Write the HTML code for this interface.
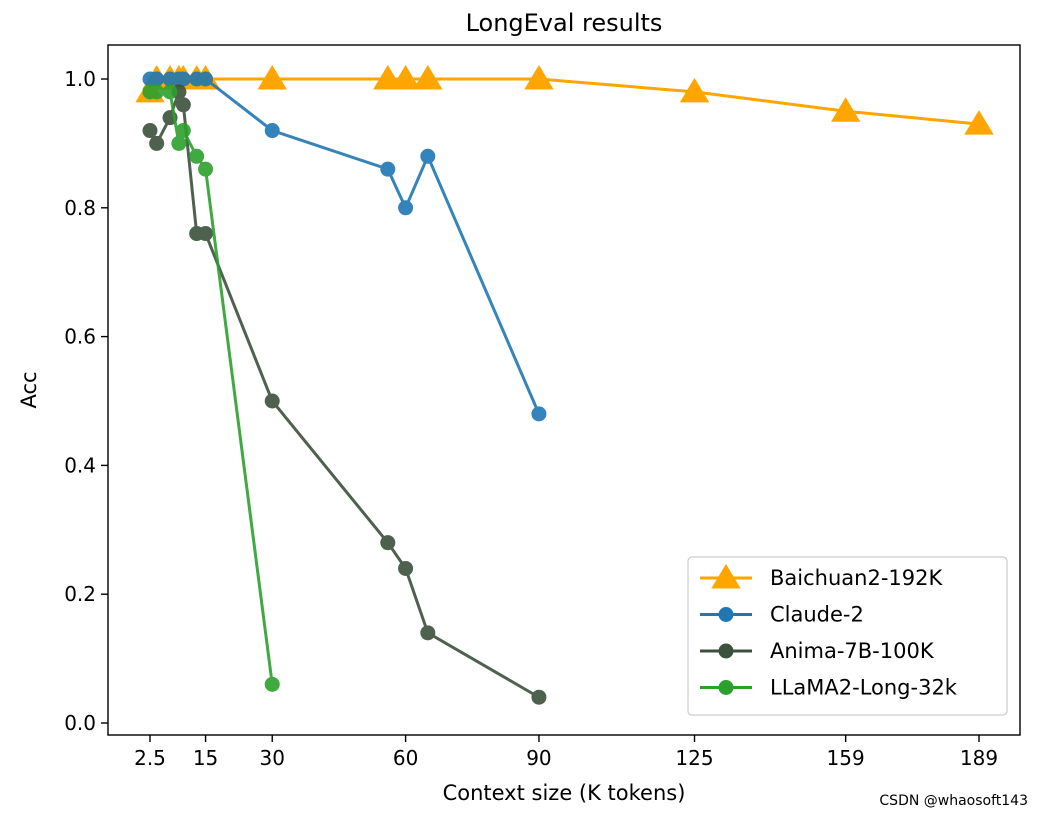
<!DOCTYPE html>
<html><head><meta charset="utf-8"><style>
body{margin:0;background:#fff;}
svg text{font-family:"DejaVu Sans","Liberation Sans",sans-serif;fill:#000;}
</style></head><body>
<svg id="chart" width="1043" height="815" xmlns="http://www.w3.org/2000/svg">
<rect width="1043" height="815" fill="#fff"/>
<g id="plot"></g>
</svg>
<script>
const xTicks=[2.5,15,30,60,90,125,159,189];
const yTicks=[0,0.2,0.4,0.6,0.8,1.0];
const baichuanX=[2.5,4,7,9,10,13,15,30,56,60,65,90,125,159,189];
const baichuanY=[0.98,1,1,1,1,1,1,1,1,1,1,1,0.98,0.95,0.93];
const claudeX=[2.5,4,7,9,10,13,15,30,56,60,65,90];
const claudeY=[1,1,1,1,1,1,1,0.92,0.86,0.80,0.88,0.48];
const animaX=[2.5,4,7,9,10,13,15,30,56,60,65,90];
const animaY=[0.92,0.90,0.94,0.98,0.96,0.76,0.76,0.50,0.28,0.24,0.14,0.04];
const llamaX=[2.5,4,7,9,10,13,15,30];
const llamaY=[0.98,0.98,0.98,0.90,0.92,0.88,0.86,0.06];
const seriesNames=["Baichuan2-192K","Claude-2","Anima-7B-100K","LLaMA2-Long-32k"];

const NS="http://www.w3.org/2000/svg";
const g=document.getElementById('plot');
const L=108,R=1020,T=45,B=735;
const sx=v=>150+(v-2.5)*(979-150)/(189-2.5);
const sy=v=>723-v*644;
function el(t,a,p){const e=document.createElementNS(NS,t);for(const k in a)e.setAttribute(k,a[k]);(p||g).appendChild(e);return e;}

const frame=el('rect',{x:L,y:T,width:R-L,height:B-T,fill:'none',stroke:'#000','stroke-width':1.4});


xTicks.forEach(v=>{
  const x=sx(v);
  el('line',{x1:x,x2:x,y1:B,y2:B+7,stroke:'#000','stroke-width':1.4});
  const t=el('text',{x:x,y:B+30,'font-size':20,'text-anchor':'middle'});t.textContent=String(v);
  
  
});
yTicks.forEach(v=>{
  const y=sy(v);
  el('line',{x1:L-7,x2:L,y1:y,y2:y,stroke:'#000','stroke-width':1.4});
  const t=el('text',{x:L-12,y:y+7,'font-size':20,'text-anchor':'end'});t.textContent=v.toFixed(1);
  
  
});
const title=el('text',{x:564,y:31,'font-size':24,'text-anchor':'middle'});title.textContent='LongEval results';


const xl=el('text',{x:564,y:800,'font-size':21,'text-anchor':'middle'});xl.textContent='Context size (K tokens)';


const yl=el('text',{x:0,y:0,'font-size':21,'text-anchor':'middle',transform:'translate(36,390) rotate(-90)'});yl.textContent='Acc';



function tri(x,y,s,color,parent){return el('polygon',{points:`${x},${y-s} ${x-s*1.05},${y+s*0.75} ${x+s*1.05},${y+s*0.75}`,fill:color},parent);}
function series(xs,ys,color,marker,name){
  const sg=el('g',{opacity:marker==='tri'?1:0.9});
  
  
  el('polyline',{points:xs.map((x,i)=>sx(x)+','+sy(ys[i])).join(' '),fill:'none',stroke:color,'stroke-width':3},sg);
  xs.forEach((x,i)=>{
    if(marker==='tri')tri(sx(x),sy(ys[i]),14,color,sg);
    else el('circle',{cx:sx(x),cy:sy(ys[i]),r:7.5,fill:color},sg);
  });
}
const colors=['#ffa500','#1f77b4','#3b513d','#2ca02c'];
series(baichuanX,baichuanY,colors[0],'tri','series-baichuan');
series(claudeX,claudeY,colors[1],'dot','series-claude');
series(animaX,animaY,colors[2],'dot','series-anima');
series(llamaX,llamaY,colors[3],'dot','series-llama');

const lg=el('g',{});


el('rect',{x:688,y:557,width:319,height:158,rx:4,fill:'#fff',stroke:'#ccc','stroke-width':1.2},lg);
seriesNames.forEach((n,i)=>{
  const y=578+i*36.5;
  const eg=el('g',{},lg);
  
  
  el('line',{x1:700,x2:752,y1:y,y2:y,stroke:colors[i],'stroke-width':3},eg);
  if(i===0)tri(726,y,14,colors[i],eg);else el('circle',{cx:726,cy:y,r:7.5,fill:colors[i]},eg);
  const t=el('text',{x:770,y:y+7,'font-size':21},eg);t.textContent=n;
});
const wm=el('text',{x:1028,y:805,'font-size':14,'text-anchor':'end'});wm.textContent='CSDN @whaosoft143';
wm.setAttribute('fill','#aaa');


</script>
</body></html>
